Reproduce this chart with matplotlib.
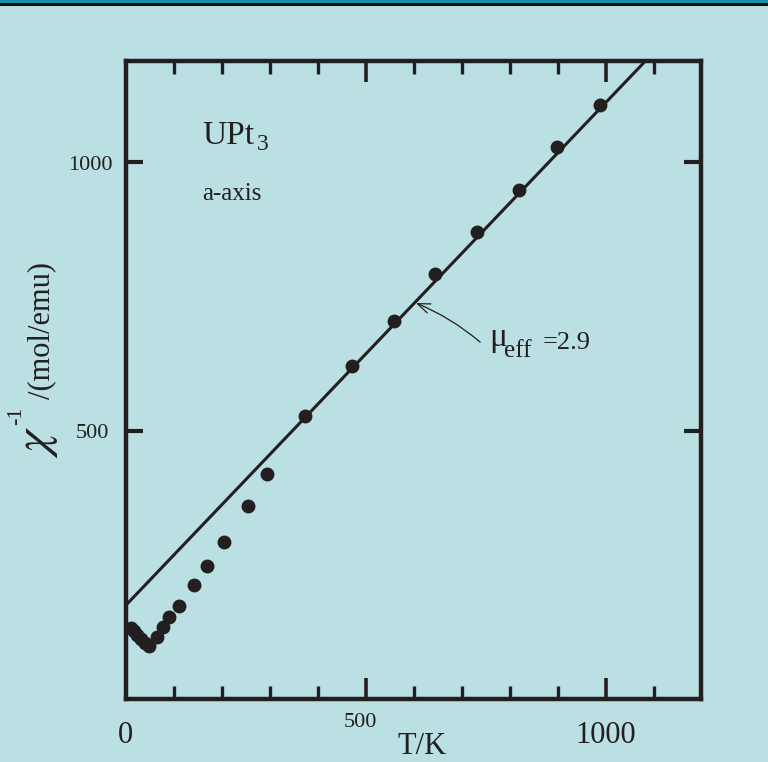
import numpy as np
import matplotlib
matplotlib.use("Agg")
import matplotlib.pyplot as plt
from matplotlib.patches import Rectangle
from matplotlib.ticker import MultipleLocator

plt.rcParams['font.family'] = ['Liberation Serif', 'DejaVu Serif']
plt.rcParams['mathtext.fontset'] = 'stix'

# mesures (T en K, inverse de la susceptibilite en mol/emu)
T = [10, 17, 23, 31, 40, 48, 65, 78, 90, 111, 142, 168, 204, 255, 293,
     372, 471, 559, 643, 732, 819, 897, 987]
chi_inv = [132, 126, 119, 112, 104, 98, 116, 135, 153, 174, 212, 247, 293, 360, 420,
           527, 621, 705, 792, 870, 949, 1029, 1107]

# droite de Curie-Weiss (mu_eff = 2.9)
fit_T = [0, 1080]
fit_chi = [175, 1187]

xticks = [0, 500, 1000]
xlabels = ['0', '500', '1000']
yticks = [500, 1000]
ylabels = ['500', '1000']

bg = '#bbe0e3'
ink = '#231f20'

W, H = 768, 762
fig = plt.figure(figsize=(W / 100, H / 100), dpi=100, facecolor=bg)
# bande en haut
fig.patches.append(Rectangle((0, 1 - 3.5 / H), 1, 3.5 / H, transform=fig.transFigure,
                             facecolor='#1a8fab', edgecolor='none'))
fig.patches.append(Rectangle((0, 1 - 5.8 / H), 1, 2.3 / H, transform=fig.transFigure,
                             facecolor='#111111', edgecolor='none'))

ax = fig.add_axes([126 / W, 1 - 699 / H, 575 / W, 638.5 / H])
ax.set_facecolor(bg)
ax.set_xlim(0, 1198)
ax.set_ylim(0, 1190)

ax.plot(fit_T, fit_chi, color=ink, lw=2.2, solid_capstyle='butt')
ax.plot(T, chi_inv, 'o', color=ink, ms=9, mec=ink)

for s in ax.spines.values():
    s.set_linewidth(3.2)
    s.set_color(ink)

ax.xaxis.set_major_locator(MultipleLocator(500))
ax.xaxis.set_minor_locator(MultipleLocator(100))
ax.set_yticks(yticks)
ax.tick_params(axis='x', which='major', direction='in', top=True, bottom=True,
               length=15, width=2.6, color=ink, labelbottom=False)
ax.tick_params(axis='x', which='minor', direction='in', top=True, bottom=True,
               length=9.5, width=2.4, color=ink)
ax.tick_params(axis='y', which='major', direction='in', left=True, right=True,
               length=12, width=3, color=ink, labelleft=False)

# etiquettes des graduations
xsize = [22, 16, 22]
xoff = [(-1, -44), (-6, -28), (0, -44)]
for v, lab, fs, off in zip(xticks, xlabels, xsize, xoff):
    ax.annotate(lab, xy=(v, 0), xycoords=('data', 'axes fraction'), xytext=off,
                textcoords='offset pixels', ha='center', va='baseline',
                fontsize=fs, color=ink, annotation_clip=False)
yoff = [(-17, -7), (-13, -8)]
for v, lab, off in zip(yticks, ylabels, yoff):
    ax.annotate(lab, xy=(0, v), xycoords=('axes fraction', 'data'), xytext=off,
                textcoords='offset pixels', ha='right', va='baseline',
                fontsize=16, color=ink, annotation_clip=False)

# titres des axes
fig.text(397 / W, 1 - 754 / H, 'T/K', fontsize=22, color=ink, ha='left', va='baseline')
fig.text(48 / W, 1 - 458 / H, r'$\chi$', fontsize=36, color=ink, rotation=90,
         rotation_mode='anchor', ha='left', va='baseline')
fig.text(21 / W, 1 - 425 / H, '-1', fontsize=16, color=ink, rotation=90,
         rotation_mode='anchor', ha='left', va='baseline')
fig.text(49 / W, 1 - 399 / H, '/(mol/emu)', fontsize=22, color=ink, rotation=90,
         rotation_mode='anchor', ha='left', va='baseline')

# textes dans le graphe
fig.text(202 / W, 1 - 144 / H, 'UPt', fontsize=24, color=ink, ha='left', va='baseline')
fig.text(257 / W, 1 - 150 / H, '3', fontsize=17, color=ink, ha='left', va='baseline')
fig.text(202 / W, 1 - 200 / H, 'a-axis', fontsize=18, color=ink, ha='left', va='baseline')
fig.text(489 / W, 1 - 346 / H, 'μ', fontsize=24, color=ink, ha='left', va='baseline')
fig.text(504 / W, 1 - 357 / H, 'eff', fontsize=18, color=ink, ha='left', va='baseline')
fig.text(543 / W, 1 - 349 / H, '=2.9', fontsize=19, color=ink, ha='left', va='baseline')

ax.annotate('', xy=(604, 738), xytext=(738, 665),
            arrowprops=dict(arrowstyle='->,head_length=0.9,head_width=0.35', lw=0.9,
                            color=ink, shrinkA=0, shrinkB=0,
                            connectionstyle='arc3,rad=0.08'))

fig.savefig('out.png', dpi=100, facecolor=bg)
